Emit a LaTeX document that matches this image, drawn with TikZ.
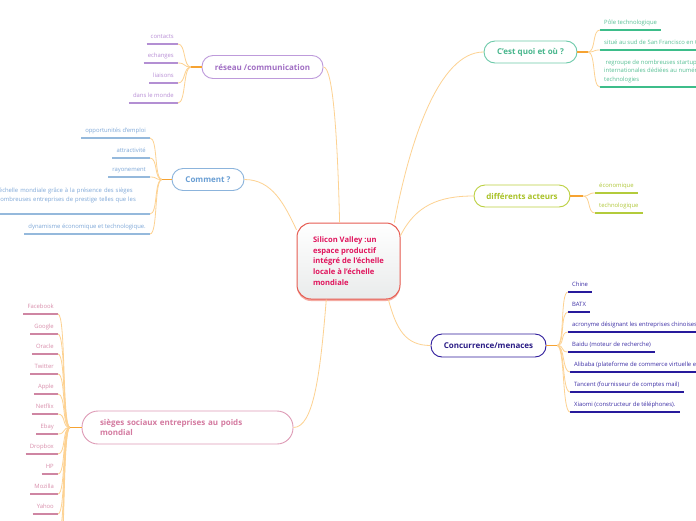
\documentclass[tikz,border=0pt]{standalone}
\usepackage{fontspec}
\setmainfont{Open Sans}
\usetikzlibrary{calc}
\definecolor{connC}{HTML}{FDD292}
\definecolor{hubC}{HTML}{F6A332}
\definecolor{resB}{HTML}{BE9BDB}
\definecolor{resT}{HTML}{A16FC4}
\definecolor{resL}{HTML}{B98FD6}
\definecolor{resU}{HTML}{B38FD3}
\definecolor{comB}{HTML}{8CB4DC}
\definecolor{comT}{HTML}{6A9FD4}
\definecolor{comL}{HTML}{7FA8D8}
\definecolor{comU}{HTML}{95B9DC}
\definecolor{sieB}{HTML}{DE9BB6}
\definecolor{sieT}{HTML}{D47AA0}
\definecolor{sieL}{HTML}{D98FAC}
\definecolor{sieU}{HTML}{CF86A3}
\definecolor{cqB}{HTML}{6CCAA9}
\definecolor{cqT}{HTML}{47B68C}
\definecolor{cqL}{HTML}{58C095}
\definecolor{cqU}{HTML}{3DBD8A}
\definecolor{daB}{HTML}{BBD040}
\definecolor{daT}{HTML}{A9C227}
\definecolor{daL}{HTML}{B1C83A}
\definecolor{daU}{HTML}{B3CB3B}
\definecolor{ccB}{HTML}{2E1B9B}
\definecolor{ccT}{HTML}{2A1C86}
\definecolor{ccL}{HTML}{3D2FA6}
\definecolor{ccU}{HTML}{281A9C}
\definecolor{cenB}{HTML}{E65C52}
\definecolor{cenT}{HTML}{E0155D}
\definecolor{cenG}{HTML}{E9EBEB}
\definecolor{cenS}{HTML}{F4ABA2}
\newcommand\lfnt{\fontsize{5.9}{8.6}\selectfont}
\newcommand\brfnt{\bfseries\fontsize{8}{10}\selectfont}
\newcommand\cenfnt{\bfseries\fontsize{7.6}{10.8}\selectfont}
\begin{document}
\begin{tikzpicture}[x=1pt,y=-1pt,
  conn/.style={draw=connC, line width=0.8pt},
  hubline/.style={draw=hubC, line width=1.4pt},
  branch/.style n args={2}{draw=#1, text=#2, line width=0.9pt, fill=white,
    rounded corners=11pt, font=\brfnt, inner sep=0pt},
  leafbase/.style n args={2}{font=\lfnt, text=#1, inner xsep=4pt, inner ysep=4pt,
    append after command={(\tikzlastnode.south west) edge[draw=#2, line width=1.5pt] (\tikzlastnode.south east)}},
  leafL/.style n args={2}{leafbase={#1}{#2}, text height=4.3pt, text depth=1.5pt, anchor=south east},
  leafR/.style n args={2}{leafbase={#1}{#2}, text height=4.3pt, text depth=1.5pt, anchor=south west},
  leafLm/.style n args={2}{leafbase={#1}{#2}, align=left, anchor=south east},
  leafRm/.style n args={2}{leafbase={#1}{#2}, align=left, anchor=south west}]
\fill[white] (0,0) rectangle (696,520);
\useasboundingbox (0,0) rectangle (696,520);

% centre
\fill[cenS, rounded corners=14pt] (297,225) rectangle (400,301);
\node[draw=cenB, line width=1pt, rounded corners=14pt, top color=white, bottom color=cenG,
  text=cenT, font=\cenfnt, align=left, minimum width=103pt, minimum height=76pt, inner sep=0pt]
  (c) at (348.5,261) {Silicon Valley :un\\espace productif\\intégré de l'échelle\\locale à l'échelle\\mondiale};

% branches
\node[branch={resB}{resT}, minimum width=121pt, minimum height=23pt] (rn) at (262.5,67) {réseau /communication};
\node[branch={comB}{comT}, minimum width=72pt, minimum height=22pt] (cm) at (208,179.5) {Comment ?};
\node[branch={sieB}{sieT}, rounded corners=16pt, minimum width=211pt, minimum height=33pt,
  align=left, text width=175pt, inner xsep=18pt] (si) at (187.5,427.5) {sièges sociaux entreprises au poids\\mondial};
\node[branch={cqB}{cqT}, minimum width=93pt, minimum height=22pt] (cq) at (530.5,52) {C'est quoi et où ?};
\node[branch={daB}{daT}, minimum width=96pt, minimum height=22pt] (da) at (522,196) {différents acteurs};
\node[branch={ccB}{ccT}, minimum width=115pt, minimum height=23pt] (cc) at (488.5,345.5) {Concurrence/menaces};

% main connectors
\draw[conn] (rn.east) .. controls +(10,0) and +(-2,-80) .. (c.103);
\draw[conn] (c.40) .. controls +(15,-80) and +(-45,0) .. (cq.west);
\draw[conn] (c.26) .. controls +(15,-30) and +(-35,0) .. (da.west);
\draw[conn] (cm.east) .. controls +(28,0) and +(-12,-25) .. (c.149);
\draw[conn] (c.240) .. controls +(-6,75) and +(20,0) .. (si.east);
\draw[conn] (c.316) .. controls +(8,30) and +(-25,0) .. (cc.west);

% hubs
\coordinate (hr) at (191,67);
\coordinate (hm) at (162,179.5);
\coordinate (hs) at (70,427.5);
\coordinate (hq) at (588,52);
\coordinate (hd) at (583,196);
\coordinate (hc) at (557,345.5);

% reseau leaves
\node[leafL={resL}{resU}] (r1) at (178,44) {contacts};
\node[leafL={resL}{resU}] (r2) at (178,63) {echanges};
\node[leafL={resL}{resU}] (r3) at (178,83) {liaisons};
\node[leafL={resL}{resU}] (r4) at (178,103) {dans le monde};
\foreach \n in {r1,r2,r3,r4} \draw[conn] (hr) .. controls +(-8,0) and +(8,0) .. (\n.south east);
\draw[hubline] (rn.west) -- (hr);

% comment leaves
\node[leafL={comL}{comU}] (m1) at (150,138) {opportunités d'emploi};
\node[leafL={comL}{comU}] (m2) at (150,158) {attractivité};
\node[leafL={comL}{comU}] (m3) at (150,177) {rayonement};
\node[leafLm={comL}{comU}, text width=149pt] (m4) at (150,214) {l'échelle mondiale grâce à la présence des sièges\\nombreuses entreprises de prestige telles que les\\\mbox{}};
\node[leafL={comL}{comU}] (m5) at (150,234) {dynamisme économique et technologique.};
\foreach \n in {m1,m2,m3,m4,m5} \draw[conn] (hm) .. controls +(-8,0) and +(8,0) .. (\n.south east);
\draw[hubline] (cm.west) -- (hm);

% sieges leaves
\node[leafL={sieL}{sieU}] (s1) at (58,314) {Facebook};
\node[leafL={sieL}{sieU}] (s2) at (58,334) {Google};
\node[leafL={sieL}{sieU}] (s3) at (58,354) {Oracle};
\node[leafL={sieL}{sieU}] (s4) at (58,374) {Twitter};
\node[leafL={sieL}{sieU}] (s5) at (58,394) {Apple};
\node[leafL={sieL}{sieU}] (s6) at (58,414) {Netflix};
\node[leafL={sieL}{sieU}] (s7) at (58,434) {Ebay};
\node[leafL={sieL}{sieU}] (s8) at (58,454) {Dropbox};
\node[leafL={sieL}{sieU}] (s9) at (58,474) {HP};
\node[leafL={sieL}{sieU}] (s10) at (58,494) {Mozilla};
\node[leafL={sieL}{sieU}] (s11) at (58,514) {Yahoo};
\foreach \n in {s1,s2,s3,s4,s5,s6,s7,s8,s9,s10,s11} \draw[conn] (hs) .. controls +(-8,0) and +(8,0) .. (\n.south east);
\coordinate (s12) at (58,534);
\coordinate (s13) at (58,554);
\coordinate (s14) at (58,574);
\foreach \n in {s12,s13,s14} \draw[conn] (hs) .. controls +(-8,0) and +(8,0) .. (\n);
\draw[hubline] (si.west) -- (hs);

% c'est quoi leaves
\node[leafR={cqL}{cqU}] (q1) at (600,30) {Pôle technologique};
\node[leafR={cqL}{cqU}] (q2) at (600,50) {situé au sud de San Francisco en Californie};
\node[leafRm={cqL}{cqU}] (q3) at (600,87) {\hspace{1.5pt}regroupe de nombreuses startups et entreprises\\internationales dédiées au numérique et aux nouvelles\\technologies};
\foreach \n in {q1,q2,q3} \draw[conn] (hq) .. controls +(8,0) and +(-8,0) .. (\n.south west);
\draw[hubline] (cq.east) -- (hq);

% differents acteurs leaves
\node[leafR={daL}{daU}] (d1) at (595,193) {économique};
\node[leafR={daL}{daU}] (d2) at (595,213) {technologique};
\foreach \n in {d1,d2} \draw[conn] (hd) .. controls +(8,0) and +(-8,0) .. (\n.south west);
\draw[hubline] (da.east) -- (hd);

% concurrence leaves
\node[leafR={ccL}{ccU}] (k1) at (568,292) {Chine};
\node[leafR={ccL}{ccU}] (k2) at (568,312) {BATX};
\node[leafR={ccL}{ccU}] (k3) at (568,332) {acronyme désignant les entreprises chinoises};
\node[leafR={ccL}{ccU}] (k4) at (568,352) {Baidu (moteur de recherche)};
\node[leafR={ccL}{ccU}] (k5) at (570,372) {Alibaba (plateforme de commerce virtuelle en ligne)};
\node[leafR={ccL}{ccU}] (k6) at (570,392) {Tancent (fournisseur de comptes mail)};
\node[leafR={ccL}{ccU}] (k7) at (570,412) {Xiaomi (constructeur de téléphones).};
\foreach \n in {k1,k2,k3,k4,k5,k6,k7} \draw[conn] (hc) .. controls +(8,0) and +(-8,0) .. (\n.south west);
\draw[hubline] (cc.east) -- (hc);
\end{tikzpicture}
\end{document}
